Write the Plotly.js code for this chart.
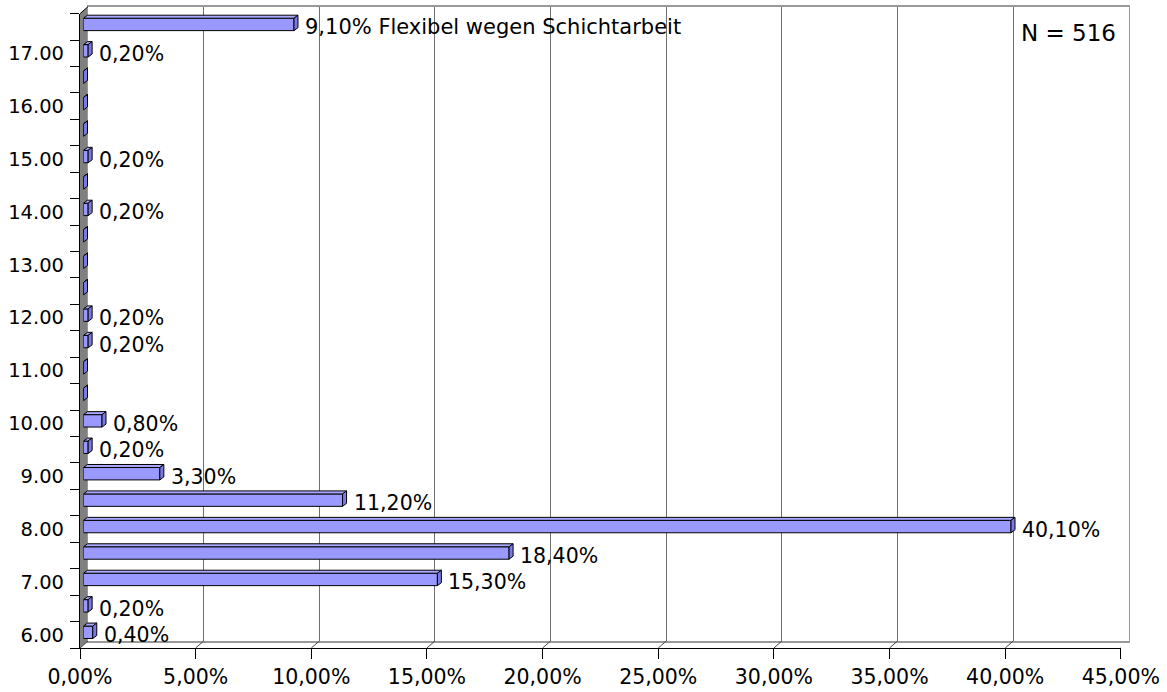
<!DOCTYPE html>
<html>
<head>
<meta charset="utf-8">
<script src="https://cdn.plot.ly/plotly-3.0.1.min.js"></script>
<style>
  html, body { margin: 0; padding: 0; background: #ffffff; }
  #chart { width: 1167px; height: 692px; }
</style>
</head>
<body>
<div id="chart"></div>
<script>
// Arbeitsbeginn: Anteil der Befragten je halbe Stunde
const categories = [
  "6.00", "6.30", "7.00", "7.30", "8.00", "8.30", "9.00", "9.30",
  "10.00", "10.30", "11.00", "11.30", "12.00", "12.30", "13.00", "13.30",
  "14.00", "14.30", "15.00", "15.30", "16.00", "16.30", "17.00",
  "Flexibel wegen Schichtarbeit"
];
const shares = [
  0.4, 0.2, 15.3, 18.4, 40.1, 11.2, 3.3, 0.2,
  0.8, 0, 0, 0.2, 0.2, 0, 0, 0,
  0.2, 0, 0.2, 0, 0, 0, 0.2,
  9.1
];
const axisLabels = ["6.00", "7.00", "8.00", "9.00", "10.00", "11.00",
                    "12.00", "13.00", "14.00", "15.00", "16.00", "17.00"];
const xTicks = [0, 5, 10, 15, 20, 25, 30, 35, 40, 45];
const sampleNote = "N = 516";

// ---- geometry of the pseudo-3D frame (pixels) ----
const W = 1167, H = 692;
const PX_PER_PCT = 23.13, XMAX = 45;
const FRONT_X0 = 80, FRONT_YB = 648, ROW = 26.43;
const N = categories.length;
const FRONT_YT = FRONT_YB - N * ROW;
const DEPTH_X = 8, DEPTH_Y = 7;        // back wall offset from front edge
const BAR_X = 3.5, BAR_Y = 2.5;        // bar front faces sit inside the depth
const BAR_DX = 4, BAR_DY = 3;          // bar body depth
const BAR_W = 0.47;                    // bar thickness in category units
const HALF = BAR_W * ROW / 2;

const fx = p => p / W;
const fy = p => 1 - p / H;
function dom(dx, dy) {
  return {
    x: [fx(FRONT_X0 + dx), fx(FRONT_X0 + dx + XMAX * PX_PER_PCT)],
    y: [fy(FRONT_YB - dy), fy(FRONT_YT - dy)]
  };
}
const back = dom(DEPTH_X, DEPTH_Y);
const mid = dom(BAR_X, BAR_Y);
const front = dom(0, 0);
const yRange = [-0.5, N - 0.5];
const idx = categories.map((_, i) => i);
const labelIdx = idx.filter(i => axisLabels.includes(categories[i]));

const FONT = "DejaVu Sans, Verdana, sans-serif";
const BAR_FILL = "#9999FF";
const SIDE_FILL = "#7A7AE6";
const TOP_FILL = "#A8A8FF";

const fmt = v => v.toFixed(2).replace(".", ",") + "%";

const traces = [
  // back wall subplot (gridlines)
  { type: "scatter", x: [], y: [], xaxis: "x", yaxis: "y", hoverinfo: "skip", showlegend: false },
  // bars (front faces)
  {
    type: "bar", orientation: "h",
    x: shares, y: idx,
    xaxis: "x2", yaxis: "y2",
    width: BAR_W,
    marker: { color: BAR_FILL, line: { color: "#000000", width: 1 } },
    hoverinfo: "skip", showlegend: false
  },
  // front axes (ticks + labels)
  { type: "scatter", x: [], y: [], xaxis: "x3", yaxis: "y3", hoverinfo: "skip", showlegend: false },
  { type: "scatter", x: [], y: [], xaxis: "x3", yaxis: "y4", hoverinfo: "skip", showlegend: false }
];

const shapes = [];

// left side wall
shapes.push({
  type: "path", xref: "paper", yref: "paper", layer: "below",
  path: `M${fx(FRONT_X0)},${fy(FRONT_YB)} L${fx(FRONT_X0 + DEPTH_X)},${fy(FRONT_YB - DEPTH_Y)} ` +
        `L${fx(FRONT_X0 + DEPTH_X)},${fy(FRONT_YT - DEPTH_Y)} L${fx(FRONT_X0)},${fy(FRONT_YT)} Z`,
  fillcolor: "#808080", line: { width: 0 }
});
shapes.push({
  type: "line", xref: "paper", yref: "paper",
  x0: fx(FRONT_X0), y0: fy(FRONT_YT), x1: fx(FRONT_X0 + DEPTH_X), y1: fy(FRONT_YT - DEPTH_Y),
  line: { color: "#000000", width: 1 }
});

// floor edges under each gridline
xTicks.forEach(t => {
  shapes.push({
    type: "line", xref: "x3", yref: "y3",
    xsizemode: "pixel", xanchor: t, x0: 0, x1: DEPTH_X,
    ysizemode: "pixel", yanchor: yRange[0], y0: 0, y1: DEPTH_Y,
    line: { color: t === XMAX ? "#999999" : "#444444", width: t === XMAX ? 2 : 1 }
  });
});

// bar tops and end caps
shares.forEach((v, i) => {
  const dxData = BAR_DX / PX_PER_PCT;
  shapes.push({
    type: "path", xref: "x2", yref: "y2",
    ysizemode: "pixel", yanchor: i,
    path: `M0,${HALF} L${v},${HALF} L${v + dxData},${HALF + BAR_DY} L${dxData},${HALF + BAR_DY} Z`,
    fillcolor: TOP_FILL, line: { color: "#000000", width: 1 }
  });
  shapes.push({
    type: "path", xref: "x2", yref: "y2",
    xsizemode: "pixel", xanchor: v,
    ysizemode: "pixel", yanchor: i,
    path: `M0,${-HALF} L0,${HALF} L${BAR_DX},${HALF + BAR_DY} L${BAR_DX},${-HALF + BAR_DY} Z`,
    fillcolor: SIDE_FILL, line: { color: "#000000", width: 1 }
  });
});

// value labels
const annotations = [];
shares.forEach((v, i) => {
  if (v <= 0) return;
  const isTime = /^\d+\.\d\d$/.test(categories[i]);
  annotations.push({
    xref: "x2", yref: "y2", x: v, y: i,
    xanchor: "left", yanchor: "middle",
    xshift: 9, yshift: -3,
    text: fmt(v) + (isTime ? "" : " " + categories[i]),
    showarrow: false,
    font: { family: FONT, size: isTime ? 20.5 : 21, color: "#000000" }
  });
});
annotations.push({
  xref: "paper", yref: "paper", x: fx(1019), y: fy(33),
  xanchor: "left", yanchor: "middle",
  text: sampleNote, showarrow: false,
  font: { family: FONT, size: 23, color: "#000000" }
});

const layout = {
  width: W, height: H,
  margin: { l: 0, r: 0, t: 0, b: 0, pad: 0 },
  paper_bgcolor: "#ffffff",
  plot_bgcolor: "rgba(0,0,0,0)",
  font: { family: FONT, size: 20, color: "#000000" },
  separators: ",.",
  showlegend: false,
  hovermode: false,
  // back wall
  xaxis: {
    domain: back.x, range: [0, XMAX], anchor: "y",
    tickmode: "linear", tick0: 0, dtick: 5,
    showgrid: true, gridcolor: "#707070", gridwidth: 1,
    showticklabels: false, ticks: "", zeroline: false,
    showline: true, mirror: true, linecolor: "#999999", linewidth: 1.5
  },
  yaxis: {
    domain: back.y, range: yRange, anchor: "x",
    showgrid: false, showticklabels: false, ticks: "", zeroline: false,
    showline: true, mirror: true, linecolor: "#999999", linewidth: 1.5
  },
  // bars
  xaxis2: { visible: false, domain: mid.x, range: [0, XMAX], anchor: "y2" },
  yaxis2: { visible: false, domain: mid.y, range: yRange, anchor: "x2" },
  // front edges, ticks and labels
  xaxis3: {
    domain: front.x, range: [0, XMAX], anchor: "y3",
    tickmode: "array", tickvals: xTicks, ticktext: xTicks.map(fmt),
    ticks: "outside", ticklen: 10, tickcolor: "#000000", tickwidth: 1,
    showgrid: false, zeroline: false,
    showline: true, linecolor: "#000000", linewidth: 1,
    tickfont: { family: FONT, size: 20.5, color: "#000000" }
  },
  yaxis3: {
    domain: front.y, range: yRange, anchor: "x3",
    tickmode: "array",
    tickvals: idx.map(i => i - 0.5).concat([N - 0.5]),
    ticktext: idx.map(() => "").concat([""]),
    ticks: "outside", ticklen: 9, tickcolor: "#000000", tickwidth: 1,
    showgrid: false, zeroline: false,
    showline: true, linecolor: "#000000", linewidth: 1
  },
  yaxis4: {
    overlaying: "y3", anchor: "x3", side: "left", range: yRange,
    tickmode: "array",
    tickvals: labelIdx,
    ticktext: labelIdx.map(i => categories[i]),
    ticks: "", showgrid: false, zeroline: false, showline: false,
    ticklabelstandoff: 15,
    tickfont: { family: FONT, size: 19.5, color: "#000000" }
  },
  shapes: shapes,
  annotations: annotations
};

Plotly.newPlot("chart", traces, layout, { staticPlot: true, displayModeBar: false });
</script>
</body>
</html>
